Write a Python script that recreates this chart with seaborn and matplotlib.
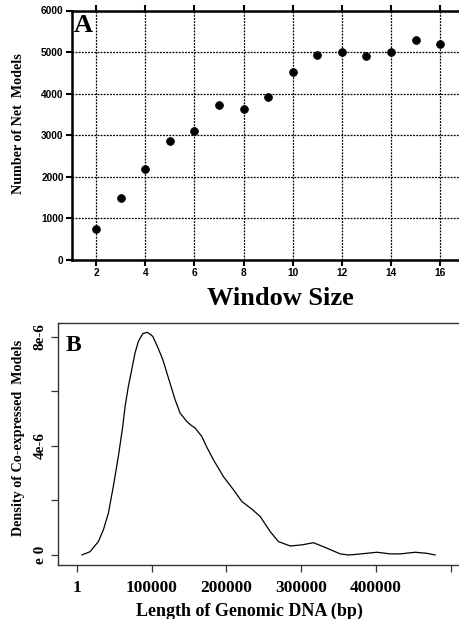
import matplotlib
matplotlib.use("Agg")
import matplotlib.pyplot as plt
import seaborn as sns
import pandas as pd

# ---- Panel A data ----
window_size = [2, 3, 4, 5, 6, 7, 8, 9, 10, 11, 12, 13, 14, 15, 16]
net_models = [740, 1500, 2180, 2850, 3100, 3730, 3640, 3930, 4530, 4940, 5000, 4900, 5000, 5280, 5200]
a_xticks = [2, 4, 6, 8, 10, 12, 14, 16]
a_yticks = [0, 1000, 2000, 3000, 4000, 5000, 6000]

# ---- Panel B data (density curve) ----
genomic_len = [6700, 17800, 28900, 35600, 42300, 48900, 55600, 61500, 64600, 69000,
               73500, 77900, 82400, 88200, 94400, 101600, 107800, 115000, 121100, 124700,
               131400, 138100, 147100, 152000, 158200, 167100, 173800, 182600, 196000, 209400,
               220600, 233900, 245100, 258400, 269500, 285200, 300800, 316300, 334200, 352000,
               363100, 372100, 401100, 418900, 432200, 452300, 467900, 479000]
density = [0.0, 0.12e-6, 0.49e-6, 0.92e-6, 1.53e-6, 2.51e-6, 3.61e-6, 4.71e-6, 5.44e-6, 6.18e-6,
           6.79e-6, 7.40e-6, 7.83e-6, 8.11e-6, 8.16e-6, 8.01e-6, 7.64e-6, 7.16e-6, 6.61e-6, 6.29e-6,
           5.69e-6, 5.20e-6, 4.89e-6, 4.77e-6, 4.65e-6, 4.34e-6, 3.95e-6, 3.49e-6, 2.87e-6, 2.39e-6,
           1.96e-6, 1.68e-6, 1.41e-6, 0.86e-6, 0.49e-6, 0.33e-6, 0.37e-6, 0.45e-6, 0.25e-6, 0.04e-6,
           0.0, 0.02e-6, 0.10e-6, 0.04e-6, 0.04e-6, 0.10e-6, 0.06e-6, 0.0]
b_xticks = [0, 100000, 200000, 300000, 400000, 500000]
b_xticklabels = ["1", "100000", "200000", "300000", "400000", ""]
b_yticks = [0, 4e-6, 8e-6]
b_yticklabels = ["e 0", "4e-6", "8e-6"]
b_minor_yticks = [2e-6, 6e-6]

sns.set_style("white")
plt.rcParams["font.family"] = ["Liberation Serif", "DejaVu Serif"]
plt.rcParams["text.color"] = "black"
plt.rcParams["axes.labelcolor"] = "black"
plt.rcParams["xtick.color"] = "black"
plt.rcParams["ytick.color"] = "black"

fig = plt.figure(figsize=(4.6, 6.19), dpi=100)

# ---------------- Panel A ----------------
axA = fig.add_axes([72 / 460, 1 - 260 / 619, 1 - 72 / 460, (260 - 10.5) / 619])
dfA = pd.DataFrame({"w": window_size, "n": net_models})
sns.scatterplot(data=dfA, x="w", y="n", ax=axA, color="black", s=32,
                edgecolor="black", linewidth=0.5, zorder=5)
axA.set_xlim(1.02, 16.81)
axA.set_ylim(0, 6000)
axA.set_xticks(a_xticks)
axA.set_yticks(a_yticks)
axA.grid(True, color="black", linestyle=(0, (1.5, 1)), linewidth=0.9)
for s in ["left", "bottom", "top"]:
    axA.spines[s].set_linewidth(1.8)
    axA.spines[s].set_color("black")
axA.spines["right"].set_visible(False)
axA.tick_params(axis="both", which="major", direction="out", length=4, width=1.5,
                color="black", labelsize=7.3, pad=2, top=True, labeltop=False,
                bottom=True, left=True)
for lab in axA.get_xticklabels() + axA.get_yticklabels():
    lab.set_fontfamily(["Liberation Sans", "DejaVu Sans"])
    lab.set_fontweight("bold")
axA.set_xlabel("Window Size", fontsize=19, fontweight="bold")
axA.xaxis.set_label_coords((280 - 72) / (460 - 72), -0.11)
axA.set_ylabel("Number of Net  Models", fontsize=10.2, fontweight="bold")
axA.yaxis.set_label_coords(-(72 - 25) / (460 - 72), 0.548)
axA.text(0.005, 0.985, "A", transform=axA.transAxes, fontsize=19, fontweight="bold",
         va="top", ha="left")

# ---------------- Panel B ----------------
axB = fig.add_axes([58 / 460, 1 - 565 / 619, 1 - 58 / 460, (565 - 323) / 619])
dfB = pd.DataFrame({"len": genomic_len, "dens": density})
sns.lineplot(data=dfB, x="len", y="dens", ax=axB, color="black", linewidth=0.9)
axB.set_xlim(-25000, 512000)
axB.set_ylim(-0.367e-6, 8.5e-6)
axB.set_xticks(b_xticks)
axB.set_xticklabels(b_xticklabels)
axB.set_yticks(b_yticks)
axB.set_yticklabels(b_yticklabels, rotation=90, va="center")
axB.set_yticks(b_minor_yticks, minor=True)
for s in ["left", "bottom", "top"]:
    axB.spines[s].set_linewidth(1.0)
    axB.spines[s].set_color("#333333")
axB.spines["right"].set_visible(False)
axB.tick_params(axis="both", which="both", direction="out", length=5, width=0.9,
                color="#333333", bottom=True, left=True)
axB.tick_params(axis="x", labelsize=12.5, pad=6)
axB.tick_params(axis="y", labelsize=11, pad=3)
for lab in axB.get_xticklabels() + axB.get_yticklabels():
    lab.set_fontweight("bold")
axB.set_xlabel("Length of Genomic DNA (bp)", fontsize=13, fontweight="bold")
axB.xaxis.set_label_coords((249 - 58) / (460 - 58), -(603 - 565) / 242)
axB.set_ylabel("Density of Co-expressed  Models", fontsize=10.2, fontweight="bold")
axB.yaxis.set_label_coords(-(58 - 25) / (460 - 58), 0.527)
axB.text(0.018, 0.95, "B", transform=axB.transAxes, fontsize=17, fontweight="bold",
         va="top", ha="left")

fig.savefig("out.png", dpi=100)
